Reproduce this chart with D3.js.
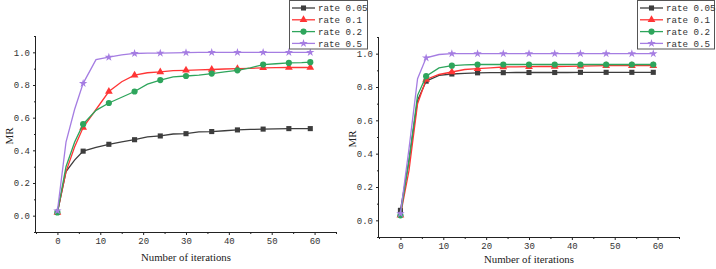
<!DOCTYPE html>
<html><head><meta charset="utf-8">
<script src="https://cdn.jsdelivr.net/npm/d3@7"></script>
<style>
body{margin:0;background:#fff;}
svg{display:block;}
</style></head>
<body>
<svg id="chart" width="716" height="269"></svg>
<script>
// ---- data ----
const iterations = [0,2,4,6,9,12,15,18,21,24,27,30,33,36,39,42,45,48,51,54,57,59];
const seriesNames = ["rate 0.05","rate 0.1","rate 0.2","rate 0.5"];
const seriesColors = ["#3d3d3d","#ff3535","#2ea55c","#a57de2"];
const seriesSymbols = ["square","triangle","circle","star"];

// left panel
const leftRate005 = [0.02,0.27,0.34,0.395,0.418,0.437,0.452,0.465,0.483,0.488,0.500,0.502,0.513,0.515,0.520,0.525,0.528,0.530,0.531,0.533,0.533,0.533];
const leftRate01  = [0.02,0.27,0.42,0.54,0.65,0.76,0.82,0.86,0.875,0.880,0.888,0.890,0.893,0.895,0.898,0.900,0.902,0.905,0.906,0.907,0.907,0.907];
const leftRate02  = [0.02,0.30,0.45,0.56,0.645,0.69,0.725,0.76,0.805,0.83,0.850,0.855,0.860,0.870,0.880,0.890,0.905,0.925,0.930,0.935,0.937,0.940];
const leftRate05  = [0.03,0.45,0.65,0.81,0.955,0.97,0.985,0.993,0.995,0.995,0.997,0.998,1.0,1.0,1.0,1.0,1.0,1.0,1.0,1.0,1.0,1.0];

// right panel
const rightRate005 = [0.06,0.36,0.72,0.835,0.870,0.878,0.882,0.885,0.886,0.886,0.887,0.887,0.887,0.887,0.887,0.888,0.888,0.888,0.888,0.888,0.888,0.888];
const rightRate01  = [0.03,0.30,0.70,0.845,0.875,0.890,0.905,0.910,0.915,0.920,0.921,0.922,0.923,0.923,0.924,0.925,0.927,0.928,0.928,0.928,0.928,0.928];
const rightRate02  = [0.03,0.36,0.75,0.865,0.915,0.928,0.933,0.935,0.935,0.935,0.935,0.935,0.935,0.935,0.935,0.935,0.935,0.935,0.935,0.935,0.935,0.935];
const rightRate05  = [0.04,0.43,0.85,0.975,0.995,1.0,1.0,1.0,1.0,1.0,1.0,1.0,1.0,1.0,1.0,1.0,1.0,1.0,1.0,1.0,1.0,1.0];

const xDomain = [-5,65];
const yDomain = [-0.1,1.1];
const xTicks = [0,10,20,30,40,50,60];
const xMinorTicks = [-5,5,15,25,35,45,55,65];
const yTicks = [0,0.2,0.4,0.6,0.8,1.0];
const yMinorTicks = [-0.1,0.1,0.3,0.5,0.7,0.9,1.1];
const xTitle = "Number of iterations";
const yTitle = "MR";

const svg = d3.select("#chart");

const symbolTypes = {square:d3.symbolSquare, triangle:d3.symbolTriangle, circle:d3.symbolCircle, star:d3.symbolStar};
const symbolSizes = {square:26, triangle:26, circle:30, star:22};

function isMarker(x){ return x % 6 === 0 || x === 59; }

function panel(cfg){
  const g = svg.append("g");
  const x = d3.scaleLinear().domain(xDomain).range([cfg.left, cfg.right]);
  const y = d3.scaleLinear().domain(yDomain).range([cfg.bottom, cfg.top]);

  // axes
  const xAxis = d3.axisBottom(x).tickValues(xTicks).tickFormat(d3.format("d")).tickSize(3).tickPadding(3);
  const gx = g.append("g").attr("transform",`translate(0,${cfg.bottom})`).call(xAxis);
  gx.select(".domain").attr("d",`M${cfg.left},0.5H${cfg.right}`).attr("stroke","#222");
  gx.selectAll(".tick line").attr("stroke","#222");
  gx.selectAll("text").attr("font-family","'Liberation Mono', monospace").attr("font-size",9).attr("fill","#333");
  g.append("g").attr("transform",`translate(0,${cfg.bottom})`)
    .call(d3.axisBottom(x).tickValues(xMinorTicks).tickFormat("").tickSize(2))
    .call(s=>s.select(".domain").remove())
    .selectAll("line").attr("stroke","#222");

  const yAxis = d3.axisLeft(y).tickValues(yTicks).tickFormat(d3.format(".1f")).tickSize(3).tickPadding(3);
  const gy = g.append("g").attr("transform",`translate(${cfg.left},0)`).call(yAxis);
  gy.select(".domain").attr("d",`M-0.5,${cfg.top}V${cfg.bottom}`).attr("stroke","#222");
  gy.selectAll(".tick line").attr("stroke","#222");
  gy.selectAll("text").attr("font-family","'Liberation Mono', monospace").attr("font-size",9).attr("fill","#333");
  g.append("g").attr("transform",`translate(${cfg.left},0)`)
    .call(d3.axisLeft(y).tickValues(yMinorTicks).tickFormat("").tickSize(2))
    .call(s=>s.select(".domain").remove())
    .selectAll("line").attr("stroke","#222");

  // titles
  g.append("text").attr("x",(x(0)+x(60))/2).attr("y",cfg.xTitleY)
    .attr("text-anchor","middle").attr("font-family","'Liberation Serif', serif").attr("font-size",10.8).attr("fill","#222")
    .text(xTitle);
  g.append("text").attr("transform",`translate(${cfg.yTitleX},${(cfg.top+cfg.bottom)/2+2}) rotate(-90)`)
    .attr("text-anchor","middle").attr("font-family","'Liberation Serif', serif").attr("font-size",11).attr("fill","#222")
    .text(yTitle);

  // series
  const line = d3.line().x(d=>x(d[0])).y(d=>y(d[1]));
  cfg.series.forEach((vals,i)=>{
    const pts = iterations.map((it,j)=>[it, vals[j]]);
    g.append("path").datum(pts).attr("d",line).attr("fill","none")
      .attr("stroke",seriesColors[i]).attr("stroke-width",1.3);
    const sym = d3.symbol().type(symbolTypes[seriesSymbols[i]]).size(symbolSizes[seriesSymbols[i]]);
    g.selectAll(null).data(pts.filter(p=>isMarker(p[0]))).enter().append("path")
      .attr("d",sym).attr("transform",p=>`translate(${x(p[0])},${y(p[1])})`)
      .attr("fill",seriesColors[i]);
  });

  // legend
  const lg = g.append("g");
  lg.append("rect").attr("x",cfg.legX+0.5).attr("y",0.5).attr("width",cfg.legW).attr("height",48.5)
    .attr("fill","#fff").attr("stroke","#555").attr("stroke-width",1);
  seriesNames.forEach((name,i)=>{
    const ly = 8 + i*11.8;
    lg.append("line").attr("x1",cfg.legX+3).attr("x2",cfg.legX+26).attr("y1",ly).attr("y2",ly)
      .attr("stroke",seriesColors[i]).attr("stroke-width",1.3);
    const sym = d3.symbol().type(symbolTypes[seriesSymbols[i]]).size(symbolSizes[seriesSymbols[i]]);
    lg.append("path").attr("d",sym).attr("transform",`translate(${cfg.legX+14.5},${ly})`).attr("fill",seriesColors[i]);
    lg.append("text").attr("x",cfg.legX+29).attr("y",ly+3.2)
      .attr("font-family","'Liberation Mono', monospace").attr("font-size",9.2).attr("fill","#333")
      .text(name);
  });
}

panel({left:36, right:336, top:36, bottom:232, xTitleY:261, yTitleX:13,
  legX:289, legW:78,
  series:[leftRate005,leftRate01,leftRate02,leftRate05]});
panel({left:379, right:679, top:37, bottom:237, xTitleY:263, yTitleX:356,
  legX:637, legW:77,
  series:[rightRate005,rightRate01,rightRate02,rightRate05]});
</script>
</body></html>
